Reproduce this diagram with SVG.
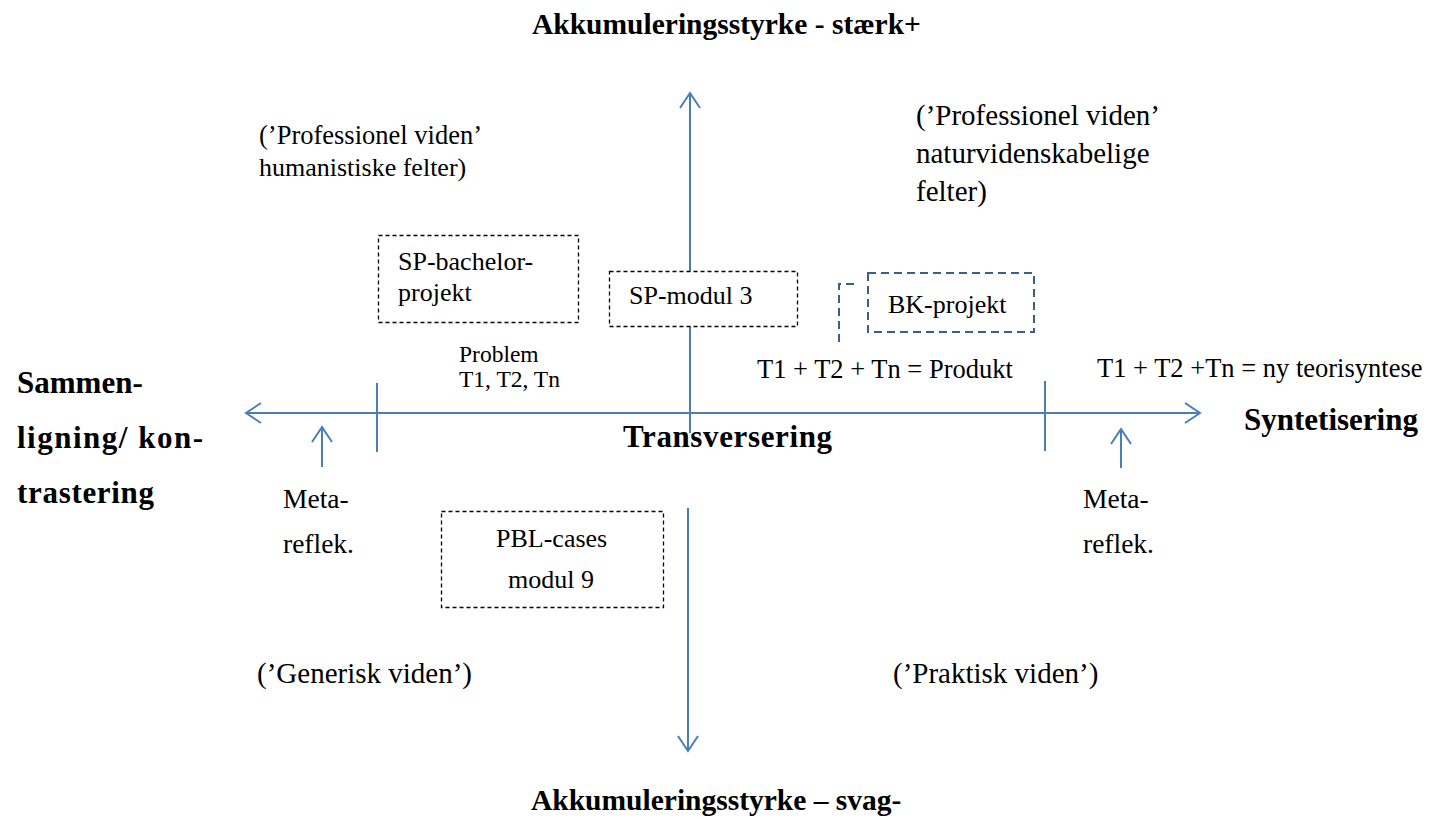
<svg xmlns="http://www.w3.org/2000/svg" width="1429" height="819" viewBox="0 0 1429 819">
<style>
  .t { font-family: "Liberation Serif", "Times New Roman", serif; fill: #000; }
  .b { font-family: "Liberation Serif", "Times New Roman", serif; font-weight: bold; fill: #000; }
  .q { font-size: 29px; }
  .m { font-size: 27.5px; }
  .bx { font-size: 26px; }
  .ax { stroke: #4a7ebb; stroke-width: 2; fill: none; }
  .dbox { fill: #fff; stroke: #000; stroke-width: 1.3; stroke-dasharray: 4 3; }
  .nbox { fill: #fff; stroke: #3a5f8f; stroke-width: 2; stroke-dasharray: 8 5; }
</style>
<defs>
  <marker id="ah" markerWidth="20" markerHeight="24" refX="16" refY="12" orient="auto" markerUnits="userSpaceOnUse">
    <path d="M1 2 L16 12 L1 22" fill="none" stroke="#4a7ebb" stroke-width="2"/>
  </marker>
</defs>
<rect width="1429" height="819" fill="#fff"/>

<g id="connectors">
  <line class="ax" x1="690" y1="433" x2="690" y2="93" marker-end="url(#ah)"/>
  <line class="ax" x1="688" y1="508" x2="688" y2="751" marker-end="url(#ah)"/>
  <line class="ax" x1="700" y1="413" x2="246" y2="413" marker-end="url(#ah)"/>
  <line class="ax" x1="680" y1="413" x2="1200" y2="413" marker-end="url(#ah)"/>
  <line class="ax" x1="377" y1="383" x2="377" y2="452"/>
  <line class="ax" x1="1045" y1="381" x2="1045" y2="451"/>
  <line class="ax" x1="322" y1="467" x2="322" y2="427" marker-end="url(#ah)"/>
  <line class="ax" x1="1121" y1="468" x2="1121" y2="429" marker-end="url(#ah)"/>
</g>

<g id="title-top"><text class="b" x="532" y="34" font-size="29.5">Akkumuleringsstyrke - stærk+</text></g>
<g id="title-bottom"><text class="b" x="531" y="810" font-size="29.5">Akkumuleringsstyrke – svag-</text></g>

<g id="label-left">
  <text class="b" x="17" y="393" font-size="31">Sammen-</text>
  <text class="b" x="17" y="448" font-size="31" textLength="186" lengthAdjust="spacing">ligning/ kon-</text>
  <text class="b" x="17" y="503" font-size="31" textLength="137" lengthAdjust="spacing">trastering</text>
</g>
<g id="label-right"><text class="b" x="1244" y="430" font-size="31">Syntetisering</text></g>
<g id="label-center"><text class="b" x="623" y="447" font-size="31" textLength="209" lengthAdjust="spacing">Transversering</text></g>

<g id="quad-tl">
  <text class="t" x="259" y="144" font-size="26.5">(’Professionel viden’</text>
  <text class="t" x="259" y="176" font-size="26">humanistiske felter)</text>
</g>
<g id="quad-tr">
  <text class="t q" x="916" y="125">(’Professionel viden’</text>
  <text class="t q" x="916" y="163">naturvidenskabelige</text>
  <text class="t q" x="916" y="201">felter)</text>
</g>
<g id="quad-bl"><text class="t q" x="257" y="683">(’Generisk viden’)</text></g>
<g id="quad-br"><text class="t q" x="893" y="683">(’Praktisk viden’)</text></g>

<g id="sp-bachelor">
  <rect class="dbox" x="378.5" y="235.5" width="200" height="87"/>
  <text class="t bx" x="398" y="270">SP-bachelor-</text>
  <text class="t bx" x="398" y="301">projekt</text>
</g>
<g id="sp-modul3">
  <rect class="dbox" x="609.5" y="271.5" width="188" height="55"/>
  <text class="t bx" x="629" y="304">SP-modul 3</text>
</g>
<g id="bk-projekt">
  <path d="M839 342 V284 H855" fill="none" stroke="#3a5f8f" stroke-width="2" stroke-dasharray="8 5"/>
  <rect class="nbox" x="868" y="273" width="166" height="59"/>
  <text class="t bx" x="888" y="313">BK-projekt</text>
</g>
<g id="pbl-cases">
  <rect class="dbox" x="441.5" y="511.5" width="222" height="96"/>
  <text class="t bx" x="496" y="547">PBL-cases</text>
  <text class="t bx" x="508" y="588">modul 9</text>
</g>

<g id="problem">
  <text class="t" x="459" y="362" font-size="23.5">Problem</text>
  <text class="t" x="459" y="387" font-size="23.5">T1, T2, Tn</text>
</g>
<g id="produkt"><text class="t" x="757" y="378" font-size="26.5">T1 + T2 + Tn = Produkt</text></g>
<g id="teorisyntese"><text class="t" x="1097" y="377" font-size="26.5">T1 + T2 +Tn = ny teorisyntese</text></g>

<g id="meta-left">
  <text class="t m" x="283" y="508">Meta-</text>
  <text class="t m" x="283" y="553">reflek.</text>
</g>
<g id="meta-right">
  <text class="t m" x="1083" y="508">Meta-</text>
  <text class="t m" x="1083" y="553">reflek.</text>
</g>
</svg>
